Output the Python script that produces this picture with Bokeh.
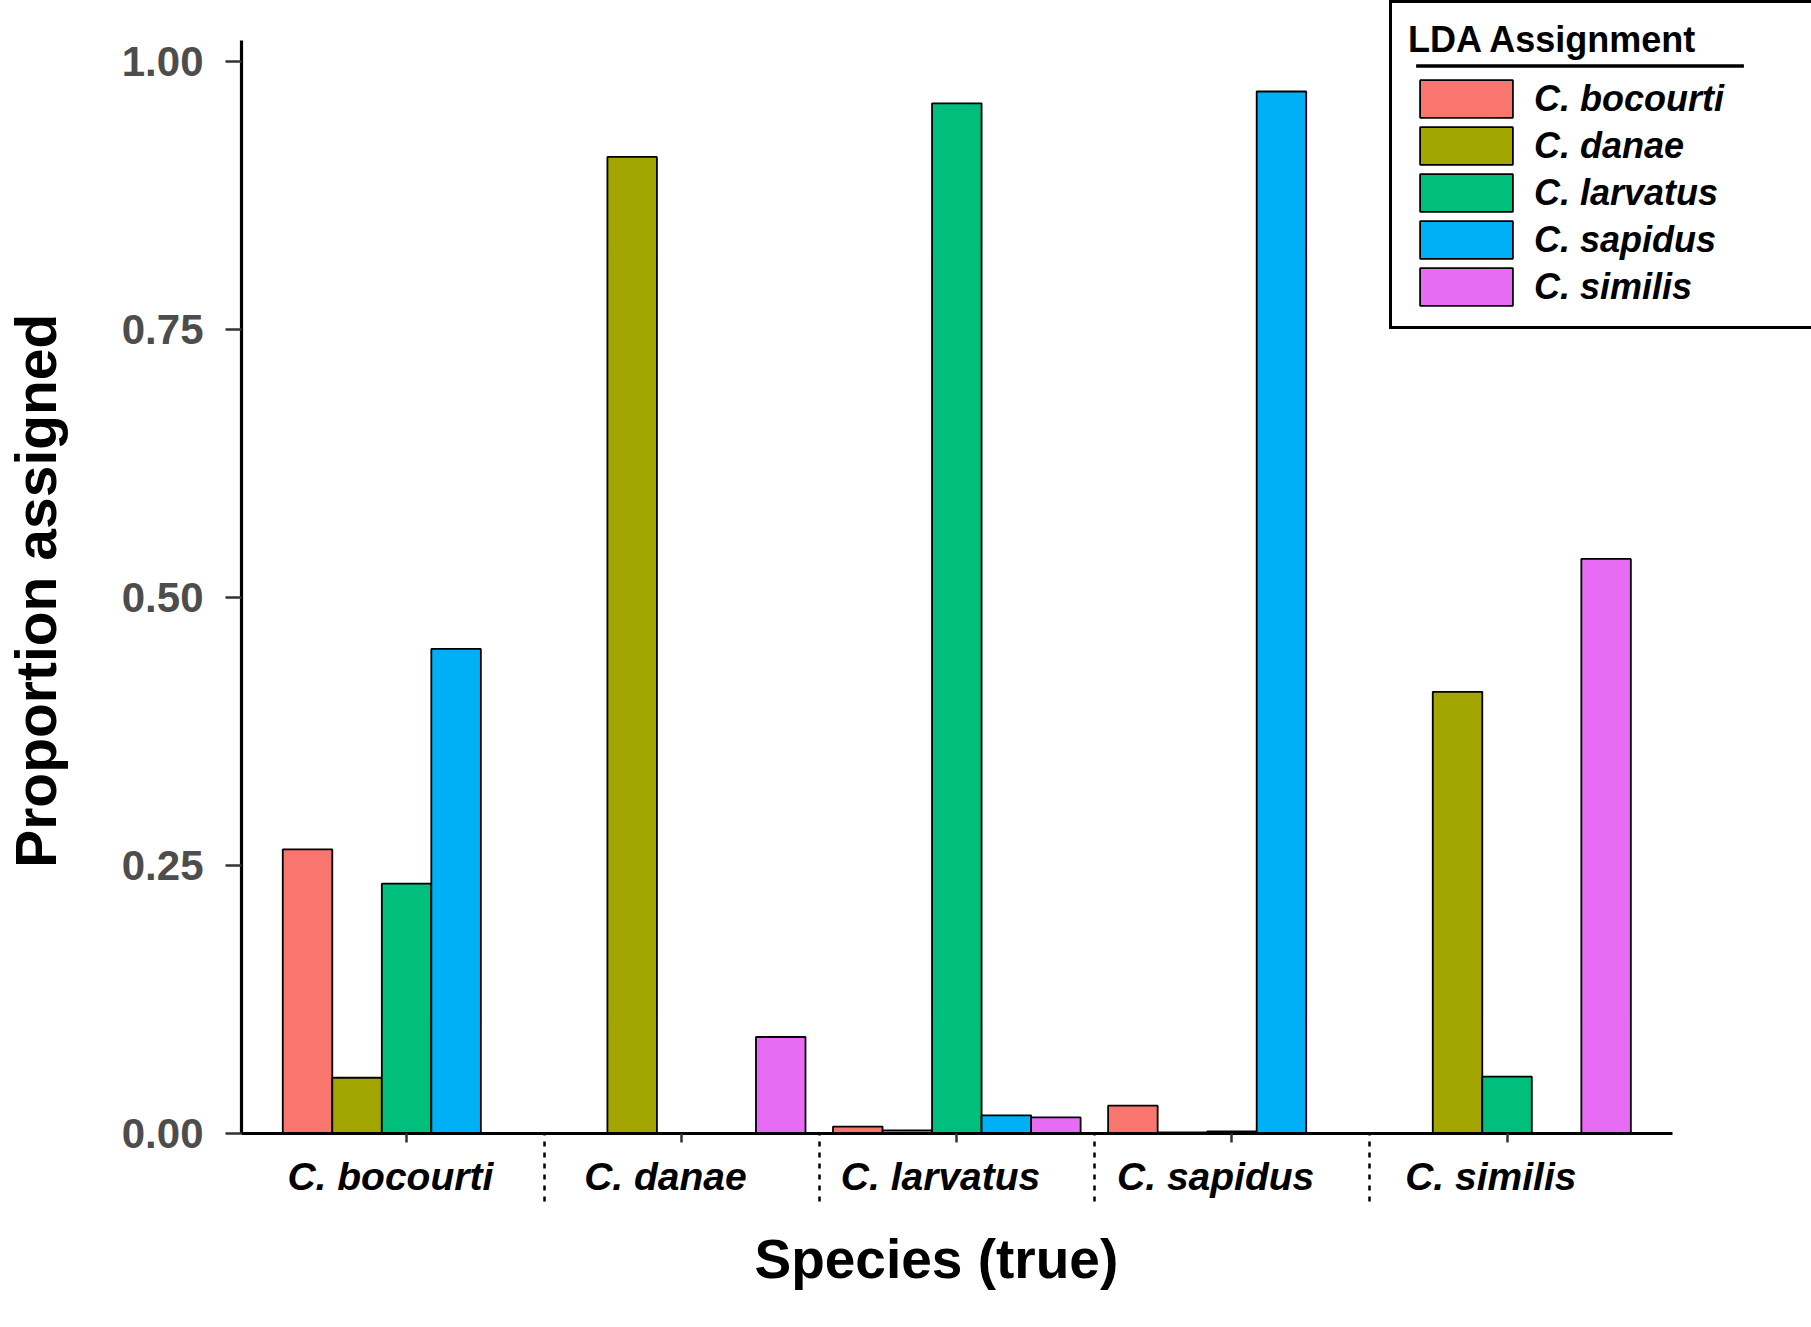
from bokeh.plotting import figure
from bokeh.models import (ColumnDataSource, Range1d, FixedTicker, BoxAnnotation, Title)
from bokeh.transform import dodge
from bokeh.embed import file_html
from bokeh.resources import INLINE

# ---- data ----
species = ["C. bocourti", "C. danae", "C. larvatus", "C. sapidus", "C. similis"]
assignments = ["C. bocourti", "C. danae", "C. larvatus", "C. sapidus", "C. similis"]
colors = ["#F8766D", "#A3A500", "#00BF7D", "#00B0F6", "#E76BF3"]

as_bocourti = [0.265, 0.000, 0.0065, 0.026, 0.000]
as_danae = [0.052, 0.911, 0.003, 0.001, 0.412]
as_larvatus = [0.233, 0.000, 0.961, 0.002, 0.053]
as_sapidus = [0.452, 0.000, 0.017, 0.972, 0.000]
as_similis = [0.000, 0.090, 0.015, 0.000, 0.536]

y_ticks = [0.0, 0.25, 0.50, 0.75, 1.00]
y_tick_labels = ["0.00", "0.25", "0.50", "0.75", "1.00"]

series = [as_bocourti, as_danae, as_larvatus, as_sapidus, as_similis]
positions = list(range(1, len(species) + 1))

src = ColumnDataSource(dict(pos=positions, sp=species,
                            **{f"s{j}": s for j, s in enumerate(series)}))

FONT = "Liberation Sans"
NB = "\u00a0"  # non-breaking space used as optical padding for text placement

# axis extents (the frame extends past them so the legend box is not clipped)
X_AXIS = (0.4, 5.6)
Y_AXIS = (0.0, 1.0196)
# rule under the legend title (legend decoration, in frame coordinates)
RULE_X = (4.670, 5.8605)
RULE_Y = (0.9944, 0.9972)

p = figure(width=1811, height=1327, output_backend="svg", toolbar_location=None,
           x_range=Range1d(0.4, 6.1066), y_range=Range1d(0, 1.0569),
           min_border_left=234, min_border_right=0, min_border_top=0,
           min_border_bottom=194)
p.background_fill_color = "white"
p.border_fill_color = "white"
p.outline_line_color = None
p.xgrid.grid_line_color = None
p.ygrid.grid_line_color = None

# legend rule (drawn first, below the transparent legend box)
p.segment(x0=[RULE_X[0]], x1=[RULE_X[1]], y0=[sum(RULE_Y) / 2],
          y1=[sum(RULE_Y) / 2], line_color="black", line_width=3)

bar_w = 0.9 / len(assignments)
for j, (name, col) in enumerate(zip(assignments, colors)):
    off = (j - (len(assignments) - 1) / 2) * bar_w
    p.vbar(x=dodge("pos", off, range=p.x_range), top=f"s{j}", bottom=0,
           width=bar_w, source=src, fill_color=col, line_color="black",
           line_width=1.8, legend_label=name)

# ---- x axis ----
xa = p.xaxis[0]
xa.bounds = X_AXIS
xa.ticker = FixedTicker(ticks=positions,
                        minor_ticks=[k + 0.5 for k in positions[:-1]])
xa.major_label_overrides = {k: s + NB * 3 for k, s in zip(positions, species)}
xa.axis_line_color = "black"
xa.axis_line_width = 3.2
xa.major_tick_line_color = "#333333"
xa.major_tick_line_width = 2.5
xa.major_tick_out = 9
xa.major_tick_in = 0
xa.minor_tick_line_color = "black"
xa.minor_tick_line_width = 2.5
xa.minor_tick_line_dash = "5 6"
xa.minor_tick_out = 68
xa.minor_tick_in = 0
xa.major_label_text_font = FONT
xa.major_label_text_font_style = "bold italic"
xa.major_label_text_font_size = "39px"
xa.major_label_text_color = "black"
xa.major_label_standoff = -47

# x axis title, positioned along the axis extent (not the wider frame)
p.add_layout(Title(text="Species (true)", align="left", offset=513,
                   vertical_align="top", standoff=54,
                   text_font=FONT, text_font_style="bold",
                   text_font_size="55px", text_color="black"), "below")

# ---- y axis ----
ya = p.yaxis[0]
ya.bounds = Y_AXIS
ya.ticker = FixedTicker(ticks=y_ticks)
ya.major_label_overrides = {t: l for t, l in zip(y_ticks, y_tick_labels)}
ya.axis_line_color = "black"
ya.axis_line_width = 3.2
ya.major_tick_line_color = "#333333"
ya.major_tick_line_width = 2.5
ya.major_tick_out = 16
ya.major_tick_in = 0
ya.minor_tick_line_color = None
ya.major_label_text_font = FONT
ya.major_label_text_font_style = "bold"
ya.major_label_text_font_size = "42px"
ya.major_label_text_color = "#4D4D4D"
ya.major_label_standoff = 22
ya.axis_label = "Proportion assigned" + NB * 3
ya.axis_label_text_font = FONT
ya.axis_label_text_font_style = "bold"
ya.axis_label_text_font_size = "57px"
ya.axis_label_text_color = "black"
ya.axis_label_standoff = 51

# ---- legend ----
lg = p.legend[0]
lg.title = "LDA Assignment"
lg.title_text_font = FONT
lg.title_text_font_style = "bold"
lg.title_text_font_size = "36px"
lg.title_text_color = "black"
lg.title_standoff = 14
lg.location = (1148, 804)
lg.margin = 0
lg.padding = 16
lg.spacing = 0
lg.glyph_width = 116
lg.glyph_height = 47
lg.label_height = 47
lg.label_standoff = 10
lg.label_width = 265
lg.label_text_font = FONT
lg.label_text_font_style = "bold italic"
lg.label_text_font_size = "36px"
lg.label_text_color = "black"
lg.border_line_color = "black"
lg.border_line_alpha = 1.0
lg.border_line_width = 3
lg.background_fill_color = "white"
lg.background_fill_alpha = 0.0

underline = BoxAnnotation(left=RULE_X[0], right=RULE_X[1], top=RULE_Y[1],
                          bottom=RULE_Y[0], fill_color="black", fill_alpha=1.0,
                          line_color=None, level="overlay")
p.add_layout(underline)

open("out.html", "w").write(file_html(p, INLINE))
